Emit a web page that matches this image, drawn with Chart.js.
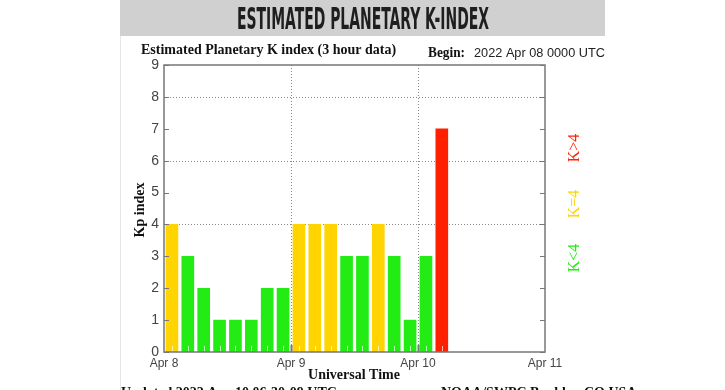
<!DOCTYPE html>
<html>
<head>
<meta charset="utf-8">
<script src="https://cdn.jsdelivr.net/npm/chart.js@4"></script>
<style>
  html, body { margin: 0; padding: 0; background: #fff; }
  #wrap { position: relative; width: 725px; height: 390px; overflow: hidden; }
</style>
</head>
<body>
<div id="wrap"><canvas id="kpChart" width="725" height="390"></canvas></div>
<script>
// 3-hour slots starting at Apr 8 00 UT (hours since start, bar centre)
const slotHours = [1.5, 4.5, 7.5, 10.5, 13.5, 16.5, 19.5, 22.5,
                   25.5, 28.5, 31.5, 34.5, 37.5, 40.5, 43.5, 46.5,
                   49.5, 52.5];
const kpValues = [4, 3, 2, 1, 1, 1, 2, 2,
                  4, 4, 4, 3, 3, 4, 3, 1,
                  3, 7];
const dayLabels = ['Apr 8', 'Apr 9', 'Apr 10', 'Apr 11'];
const gridLevels = [4, 6, 8];
const dayLines = [24, 48];

const GREEN = '#22ec14', YELLOW = '#ffd400', RED = '#ff2000';
const AXIS = '#777';

function kpColor(v) {
    if (v < 4) return GREEN;
    if (v === 4) return YELLOW;
    return RED;
}

const decor = {
    id: 'decor',
    beforeDraw(chart) {
        const c = chart.ctx;
        c.save();
        // header band
        c.fillStyle = '#d0d0d0';
        c.fillRect(120, 0, 485, 36);
        c.strokeStyle = '#e6e6e6';
        c.lineWidth = 1;
        c.beginPath();
        c.moveTo(120.5, 36); c.lineTo(120.5, 390);
        c.stroke();
        c.restore();
    },
    beforeDatasetsDraw(chart) {
        // dotted grid
        const c = chart.ctx;
        const a = chart.chartArea;
        const x = chart.scales.x, y = chart.scales.y;
        c.save();
        c.strokeStyle = '#888';
        c.lineWidth = 1;
        c.setLineDash([1, 2]);
        gridLevels.forEach(v => {
            const py = Math.round(y.getPixelForValue(v)) + 0.5;
            c.beginPath();
            c.moveTo(a.left, py); c.lineTo(a.right, py);
            c.stroke();
        });
        dayLines.forEach(h => {
            const px = Math.round(x.getPixelForValue(h)) + 0.5;
            c.beginPath();
            c.moveTo(px, a.top); c.lineTo(px, a.bottom);
            c.stroke();
        });
        c.restore();
    },
    afterDraw(chart) {
        const c = chart.ctx;
        const a = chart.chartArea;
        const x = chart.scales.x, y = chart.scales.y;
        c.save();

        // frame
        c.strokeStyle = AXIS;
        c.lineWidth = 1.5;
        c.strokeRect(a.left, a.top, a.right - a.left, a.bottom - a.top);

        // inner ticks on left and right axes
        c.lineWidth = 1;
        for (let v = 0; v <= 9; v++) {
            const py = Math.round(y.getPixelForValue(v)) + 0.5;
            c.beginPath();
            c.moveTo(a.left, py); c.lineTo(a.left + 5, py);
            c.moveTo(a.right, py); c.lineTo(a.right - 5, py);
            c.stroke();
        }
        // day ticks on bottom axis
        dayLines.forEach(h => {
            const px = Math.round(x.getPixelForValue(h)) + 0.5;
            c.lineWidth = 2;
            c.beginPath();
            c.moveTo(px, a.bottom); c.lineTo(px, a.bottom - 7);
            c.stroke();
        });
        // light minor ticks at slot centres
        c.strokeStyle = 'rgba(255,255,255,0.7)';
        c.lineWidth = 1;
        slotHours.forEach(h => {
            const px = Math.round(x.getPixelForValue(h)) + 0.5;
            c.beginPath();
            c.moveTo(px, a.bottom - 1); c.lineTo(px, a.bottom - 6);
            c.stroke();
        });

        // header title
        c.fillStyle = '#1e1e1e';
        c.textAlign = 'center';
        c.textBaseline = 'alphabetic';
        c.font = 'bold 31px "Liberation Sans Narrow", "DejaVu Sans Condensed", sans-serif';
        c.fillText('ESTIMATED PLANETARY K-INDEX', 363, 29, 252);

        // plot title line
        c.fillStyle = '#111';
        c.textAlign = 'left';
        c.font = 'bold 14px "Liberation Serif", serif';
        c.fillText('Estimated Planetary K index (3 hour data)', 141, 54, 268);
        c.fillText('Begin:', 428, 57, 37);
        c.font = '13px "Liberation Sans", sans-serif';
        c.fillStyle = '#222';
        c.fillText('2022 Apr 08 0000 UTC', 474, 57, 131);

        // axis titles
        c.fillStyle = '#111';
        c.font = 'bold 14px "Liberation Serif", serif';
        c.textAlign = 'center';
        c.fillText('Universal Time', 354, 379);
        c.save();
        c.translate(144, 210);
        c.rotate(-Math.PI / 2);
        c.fillText('Kp index', 0, 0);
        c.restore();

        // colour key
        const key = [['K<4', GREEN, 258], ['K=4', YELLOW, 204], ['K>4', RED, 148]];
        c.font = '16px "Liberation Serif", serif';
        key.forEach(([t, col, cy]) => {
            c.save();
            c.translate(579, cy);
            c.rotate(-Math.PI / 2);
            c.fillStyle = col;
            c.fillText(t, 0, 0);
            c.restore();
        });

        // footer (cut at bottom edge)
        c.fillStyle = '#111';
        c.textAlign = 'left';
        c.font = 'bold 14px "Liberation Serif", serif';
        c.fillText('Updated 2022 Apr 10 06:30:09 UTC', 121, 397);
        c.fillText('NOAA/SWPC Boulder, CO USA', 441, 397);

        c.restore();
    }
};

new Chart(document.getElementById('kpChart').getContext('2d'), {
    type: 'bar',
    data: {
        datasets: [{
            label: 'Kp',
            data: slotHours.map((h, i) => ({ x: h, y: kpValues[i] })),
            backgroundColor: kpValues.map(kpColor),
            borderWidth: 0,
            barThickness: 12
        }]
    },
    options: {
        responsive: false,
        animation: false,
        layout: { padding: { left: 0, right: 180, top: 65, bottom: 0 } },
        plugins: { legend: { display: false }, tooltip: { enabled: false } },
        scales: {
            x: {
                type: 'linear',
                min: 0,
                max: 72,
                offset: false,
                afterFit: s => { s.height = 38; },
                ticks: {
                    stepSize: 24,
                    padding: 4,
                    color: '#444',
                    font: { family: 'Liberation Sans', size: 12 },
                    callback: v => dayLabels[v / 24]
                },
                grid: { display: false, drawTicks: false, offset: false },
                border: { display: false }
            },
            y: {
                min: 0,
                max: 9,
                afterFit: s => { s.width = 164; },
                ticks: {
                    stepSize: 1,
                    padding: 5,
                    color: '#444',
                    font: { family: 'Liberation Sans', size: 14 }
                },
                grid: { display: false, drawTicks: false },
                border: { display: false }
            }
        }
    },
    plugins: [decor]
});
</script>
</body>
</html>
